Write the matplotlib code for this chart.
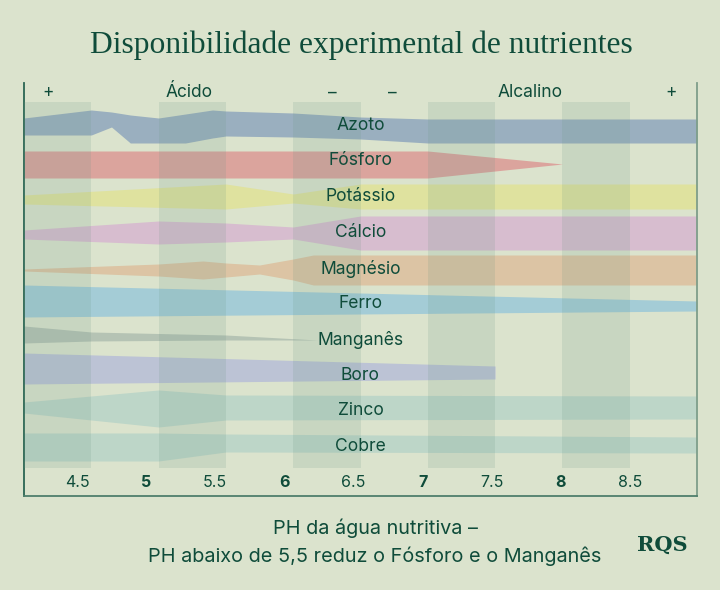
import matplotlib.pyplot as plt
import matplotlib.transforms as mtransforms

# ----------------------------------------------------
# dados (y = posição vertical, de cima para baixo)
# ----------------------------------------------------
nutrientes = ["Azoto", "Fósforo", "Potássio", "Cálcio", "Magnésio",
              "Ferro", "Manganês", "Boro", "Zinco", "Cobre"]
label_y = [126, 161, 197, 233, 269, 304, 340, 376, 411, 447]

azoto_ph = [4.0, 4.5, 4.65, 4.79, 5.0, 5.2, 5.4, 5.5, 6.0, 6.5, 7.0, 9.0]
azoto_top = [118, 110, 112, 115, 118, 114, 110, 111, 113, 117, 119, 119]
azoto_bot = [135, 135, 127, 143, 143, 143, 138, 136, 137, 139, 143, 143]

fosforo_ph = [4.0, 7.0, 8.0]
fosforo_top = [151, 151, 164]
fosforo_bot = [178, 178, 164]

potassio_ph = [4.0, 5.5, 6.0, 6.5, 9.0]
potassio_top = [195, 184, 194, 184, 184]
potassio_bot = [204, 209, 203, 209, 209]

calcio_ph = [4.0, 5.0, 5.5, 6.0, 6.5, 9.0]
calcio_top = [230, 221, 223, 227, 216, 216]
calcio_bot = [239, 244, 242, 239, 250, 250]

magnesio_ph = [4.0, 5.0, 5.33, 5.5, 5.75, 6.0, 6.15, 9.0]
magnesio_top = [269, 264, 261, 263, 265, 259, 255, 255]
magnesio_bot = [271, 276, 279, 277, 274, 280, 285, 285]

ferro_ph = [4.0, 9.0]
ferro_top = [285, 301]
ferro_bot = [317, 311]

manganes_ph = [4.0, 4.5, 5.5, 6.18]
manganes_top = [326, 332, 335, 340]
manganes_bot = [343, 341, 340, 340]

boro_ph = [4.0, 7.5]
boro_top = [353, 366]
boro_bot = [384, 379]

zinco_ph = [4.0, 5.0, 5.5, 9.0]
zinco_top = [402, 390, 395, 396]
zinco_bot = [413, 427, 420, 419]

cobre_ph = [4.0, 5.0, 5.5, 9.0]
cobre_top = [433, 433, 434, 437]
cobre_bot = [461, 461, 452, 453]

faixas = [(azoto_ph, azoto_top, azoto_bot), (fosforo_ph, fosforo_top, fosforo_bot),
          (potassio_ph, potassio_top, potassio_bot), (calcio_ph, calcio_top, calcio_bot),
          (magnesio_ph, magnesio_top, magnesio_bot), (ferro_ph, ferro_top, ferro_bot),
          (manganes_ph, manganes_top, manganes_bot), (boro_ph, boro_top, boro_bot),
          (zinco_ph, zinco_top, zinco_bot), (cobre_ph, cobre_top, cobre_bot)]

cores = ["#9aafbf", "#dba49d", "#dfe29f", "#d7bdcf", "#dcc4a4",
         "#a4ccd6", "#b5c3b4", "#bcc3d5", "#bdd6c8", "#bdd6c8"]

listras = [(4.0, 4.5), (5.0, 5.5), (6.0, 6.5), (7.0, 7.5), (8.0, 8.5)]
ticks = [4.5, 5, 5.5, 6, 6.5, 7, 7.5, 8, 8.5]
topo = [(4.18, "+"), (5.23, "Ácido"), (6.29, "–"), (6.74, "–"), (7.76, "Alcalino"), (8.81, "+")]

FUNDO = "#dbe3cd"
VERDE = "#0f4c3a"
SANS = "Inter"

# ----------------------------------------------------
# gráfico
# ----------------------------------------------------
plt.rcParams['font.family'] = ['DejaVu Sans']
fig = plt.figure(figsize=(7.2, 5.9), dpi=100, facecolor=FUNDO)
ax = fig.add_axes([24 / 720, 1 - 496 / 590, 673 / 720, 413 / 590])
ax.set_facecolor(FUNDO)
ax.set_xlim(4.0, 9.0)
ax.set_ylim(496, 83)

for (ph, top, bot), c in zip(faixas, cores):
    ax.fill_between(ph, top, bot, color=c, lw=0, zorder=2)

for a, b in listras:
    ax.fill_between([a, b], 102, 468, color="#6e9886", alpha=0.17, lw=0, zorder=3)

for nome, y in zip(nutrientes, label_y):
    ax.text(6.5, y, nome, ha="center", va="center", fontsize=12.6,
            color=VERDE, family=SANS, zorder=5)

for x, t in topo:
    ax.text(x, 93, t, ha="center", va="center", fontsize=12.5,
            color=VERDE, family=SANS, zorder=5)

# eixo dos rótulos de pH (escala própria)
ax2 = ax.twiny()
ax2.set_xlim(4.117, 8.985)
ax2.axis("off")
tr = mtransforms.blended_transform_factory(ax2.transData, ax.transData)
for t in ticks:
    ax.text(t, 483, f"{t:g}", transform=tr, ha="center", va="center",
            fontsize=11.5, color=VERDE, family=SANS,
            fontweight="bold" if t == int(t) else "normal")

ax.set_xticks([])
ax.set_yticks([])
ax.spines["top"].set_visible(False)
ax.spines["left"].set_color("#2a6553")
ax.spines["bottom"].set_color("#4f7f6c")
ax.spines["right"].set_color("#7e9e8a")
for s in ["left", "bottom", "right"]:
    ax.spines[s].set_linewidth(1.3)

fig.text(361 / 720, 1 - 45 / 590, "Disponibilidade experimental de nutrientes",
         ha="center", va="center", fontsize=22.7, color=VERDE, family="Liberation Serif")
fig.text(375 / 720, 1 - 528 / 590, "PH da água nutritiva –", ha="center", va="center",
         fontsize=14.3, color=VERDE, family=SANS)
fig.text(375 / 720, 1 - 556 / 590, "PH abaixo de 5,5 reduz o Fósforo e o Manganês",
         ha="center", va="center", fontsize=14.3, color=VERDE, family=SANS)
fig.text(662 / 720, 1 - 545 / 590, "RQS", ha="center", va="center", fontsize=15,
         color=VERDE, family="DejaVu Serif", fontweight="bold")

plt.savefig("out.png", dpi=100, facecolor=FUNDO)
